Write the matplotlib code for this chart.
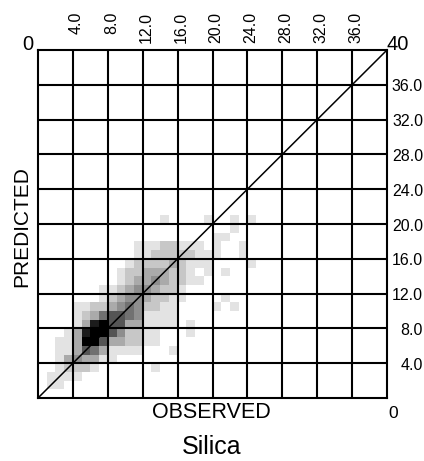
import numpy as np
import matplotlib
matplotlib.use("Agg")
import matplotlib.pyplot as plt
from matplotlib.transforms import blended_transform_factory, offset_copy

# Axis range and grid/tick positions (both axes share the same scale)
axis_max = 40
tick_values = [4, 8, 12, 16, 20, 24, 28, 32, 36]
tick_labels = ["4.0", "8.0", "12.0", "16.0", "20.0", "24.0", "28.0", "32.0", "36.0"]

# Point density per 1x1 cell (0 = empty, 9 = densest).
# One string per predicted-value row, from 20 (top) down to 0 (bottom);
# each character is an observed-value column 0..29.
density_rows = [
    "000000000000001000010010100000",  # 20
    "000000000000000000000010000000",  # 19
    "000000000000000000001100000000",  # 18
    "000000000001112211101001000000",  # 17
    "000000000001122222111001000000",  # 16
    "000000000012222321110000100000",  # 15
    "000000000122333221010100000000",  # 14
    "000000000123343221100000000000",  # 13
    "000000011234432210000000000000",  # 12
    "000000012344322110000100000000",  # 11
    "000011223454221100001010000000",  # 10
    "000012356654111100000000000000",  # 9
    "000013896633111101000000000000",  # 8
    "000138996422110001000000000000",  # 7
    "001139963322110000000000000000",  # 6
    "001136531111000100000000000000",  # 5
    "001343311000000000000000000000",  # 4
    "001222100000010000000000000000",  # 3
    "011110000000000000000000000000",  # 2
    "011000000000000000000000000000",  # 1
    "000000000000000000000000000000",  # 0
]

plt.rcParams["font.family"] = ["Liberation Sans", "DejaVu Sans"]

W, H = 424, 461
fig = plt.figure(figsize=(W / 100, H / 100), dpi=100)
ax = fig.add_axes([38 / W, 63 / H, 349 / W, 348 / H])

counts = np.array([[int(c) for c in row] for row in density_rows[::-1]], dtype=float)
n_rows, n_cols = counts.shape
ax.pcolormesh(np.arange(n_cols + 1), np.arange(n_rows + 1), counts,
              cmap="gray_r", vmin=0, vmax=9, shading="flat",
              antialiased=False, edgecolors="none", zorder=1)

ax.set_xlim(0, axis_max)
ax.set_ylim(0, axis_max)
for t in tick_values:
    ax.axvline(t, color="black", lw=1.5, zorder=2)
    ax.axhline(t, color="black", lw=1.5, zorder=2)
ax.plot([0, axis_max], [0, axis_max], color="black", lw=1.1, zorder=3)
ax.set_xticks([])
ax.set_yticks([])
for s in ax.spines.values():
    s.set_linewidth(1.5)
    s.set_zorder(4)

# Observed-value labels along the top, rotated
top_tr = offset_copy(blended_transform_factory(ax.transData, fig.transFigure),
                     fig=fig, x=3.5, y=0, units="dots")
for t, lab in zip(tick_values, tick_labels):
    fig.text(t, 1 - 12 / H, lab, transform=top_tr, rotation=90,
             ha="center", va="top", fontsize=11.5)

# Predicted-value labels along the right side
right_tr = offset_copy(blended_transform_factory(fig.transFigure, ax.transData),
                       fig=fig, x=0, y=-2, units="dots")
for t, lab in zip(tick_values, tick_labels):
    fig.text(423 / W, t, lab, transform=right_tr, ha="right", va="center",
             fontsize=11.5)

# Range end labels
fig.text(33 / W, 1 - 50 / H, "0", ha="right", va="baseline", fontsize=14.5)
fig.text(386.5 / W, 1 - 50 / H, "40", ha="left", va="baseline", fontsize=14.5)
fig.text(388 / W, 1 - 418 / H, "0", ha="left", va="baseline", fontsize=12.5)

fig.text(211 / W, 1 - 418 / H, "OBSERVED", ha="center", va="baseline", fontsize=15.5)
fig.text(22 / W, 1 - 227 / H, "PREDICTED", rotation=90, ha="center", va="center",
         fontsize=15)
fig.text(212 / W, 1 - 454 / H, "Silica", ha="center", va="baseline", fontsize=18)

fig.savefig("out.png", dpi=100)
